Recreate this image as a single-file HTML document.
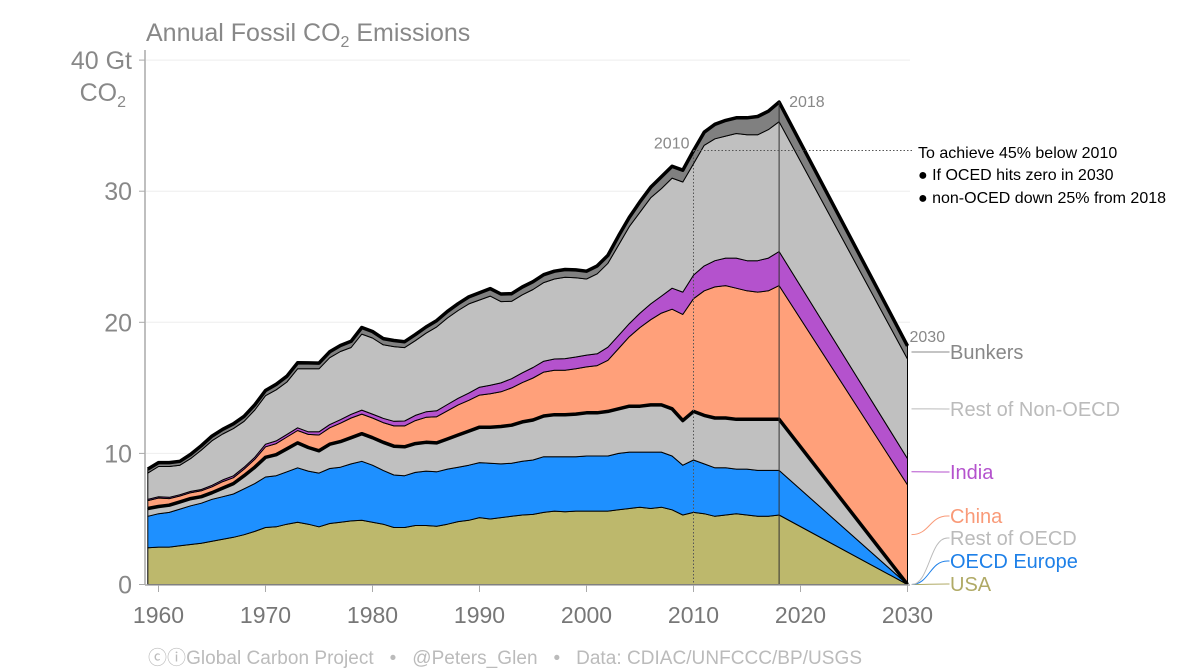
<!DOCTYPE html>
<html><head><meta charset="utf-8">
<style>
html,body{margin:0;padding:0;background:#fff;}
svg{display:block;font-family:"Liberation Sans",sans-serif;}
</style></head>
<body>
<svg id="chart" width="1200" height="672" viewBox="0 0 1200 672">
<g id="grid"></g>
<g id="areas"></g>
<g id="annot"></g>
<g id="axes"></g>
<g id="labels"></g>
<text x="146" y="41" font-size="25" fill="#888">Annual Fossil CO<tspan font-size="16" dy="6">2</tspan><tspan dy="-6"> Emissions</tspan></text>
<text x="132" y="69" font-size="25" fill="#888" text-anchor="end">40 Gt</text>
<text x="126" y="101" font-size="25" fill="#888" text-anchor="end">CO<tspan font-size="16" dy="6">2</tspan></text>
<text x="918" y="158" font-size="16" fill="#000">To achieve 45% below 2010</text>
<text x="918" y="180" font-size="16" fill="#000">● If OCED hits zero in 2030</text>
<text x="918" y="203" font-size="16" fill="#000">● non-OCED down 25% from 2018</text>
<text x="148" y="664" font-size="19" fill="#bbb" textLength="714" lengthAdjust="spacing" xml:space="preserve">ⓒⓘGlobal Carbon Project   •   @Peters_Glen   •   Data: CDIAC/UNFCCC/BP/USGS</text>
</svg>
<script>
const years=[1959,1960,1961,1962,1963,1964,1965,1966,1967,1968,1969,1970,1971,1972,1973,1974,1975,1976,1977,1978,1979,1980,1981,1982,1983,1984,1985,1986,1987,1988,1989,1990,1991,1992,1993,1994,1995,1996,1997,1998,1999,2000,2001,2002,2003,2004,2005,2006,2007,2008,2009,2010,2011,2012,2013,2014,2015,2016,2017,2018,2030];
const usa=[2.8,2.85,2.85,2.95,3.05,3.15,3.3,3.45,3.6,3.8,4.05,4.35,4.4,4.6,4.75,4.6,4.4,4.65,4.75,4.85,4.9,4.75,4.6,4.35,4.35,4.5,4.5,4.45,4.6,4.8,4.9,5.1,5.0,5.1,5.2,5.3,5.35,5.5,5.6,5.55,5.6,5.6,5.6,5.6,5.7,5.8,5.9,5.8,5.9,5.7,5.3,5.5,5.4,5.2,5.3,5.4,5.3,5.2,5.2,5.3,0];
const europe=[2.4,2.55,2.65,2.8,2.95,3.05,3.2,3.25,3.3,3.5,3.65,3.85,3.9,4.0,4.15,4.05,4.1,4.2,4.2,4.35,4.5,4.35,4.1,4.0,3.95,4.05,4.15,4.15,4.2,4.15,4.2,4.2,4.25,4.1,4.05,4.1,4.15,4.25,4.15,4.2,4.15,4.2,4.2,4.2,4.3,4.3,4.2,4.3,4.2,4.1,3.8,4.0,3.8,3.7,3.6,3.4,3.5,3.5,3.5,3.4,0];
const restOECD=[0.6,0.55,0.55,0.55,0.55,0.5,0.5,0.65,0.8,1.0,1.25,1.5,1.6,1.75,1.9,1.8,1.7,1.85,1.95,2.0,2.1,2.1,2.15,2.2,2.2,2.2,2.2,2.2,2.3,2.45,2.6,2.7,2.75,2.85,2.9,3.0,3.05,3.1,3.2,3.2,3.25,3.3,3.3,3.4,3.4,3.5,3.5,3.6,3.6,3.6,3.4,3.7,3.7,3.8,3.8,3.8,3.8,3.9,3.9,3.9,0];
const china=[0.6,0.65,0.5,0.45,0.45,0.45,0.45,0.5,0.45,0.5,0.6,0.8,0.85,0.9,0.95,1.0,1.2,1.25,1.4,1.5,1.5,1.5,1.5,1.55,1.6,1.75,1.9,2.0,2.15,2.3,2.35,2.45,2.55,2.65,2.85,3.0,3.2,3.35,3.4,3.4,3.45,3.5,3.6,3.9,4.6,5.3,6.0,6.5,7.0,7.6,8.1,8.6,9.5,10.0,10.1,10.0,9.8,9.7,9.8,10.2,7.6];
const india=[0.1,0.1,0.1,0.1,0.1,0.1,0.12,0.13,0.14,0.15,0.16,0.2,0.2,0.2,0.2,0.2,0.25,0.25,0.27,0.28,0.3,0.3,0.33,0.35,0.37,0.4,0.42,0.45,0.48,0.5,0.55,0.6,0.65,0.68,0.7,0.75,0.8,0.83,0.85,0.88,0.9,0.9,0.9,1.0,1.0,1.0,1.1,1.2,1.3,1.6,1.7,1.8,1.9,2.0,2.1,2.3,2.3,2.4,2.5,2.6,2.0];
const restNonOECD=[2.0,2.3,2.35,2.25,2.5,3.0,3.4,3.5,3.6,3.5,3.6,3.7,3.9,4.0,4.5,4.8,4.8,5.1,5.2,5.1,5.8,5.8,5.6,5.7,5.6,5.7,6.0,6.4,6.6,6.7,6.8,6.65,6.8,6.2,5.9,5.95,5.95,6.0,6.1,6.2,6.05,5.8,6.1,6.4,6.9,7.4,7.7,8.1,8.2,8.4,8.4,8.5,9.2,9.3,9.3,9.5,9.6,9.6,9.8,9.9,7.6];
const bunkers=[0.3,0.3,0.3,0.3,0.32,0.34,0.35,0.36,0.37,0.38,0.4,0.4,0.42,0.44,0.46,0.45,0.44,0.45,0.46,0.47,0.5,0.5,0.48,0.46,0.45,0.46,0.47,0.48,0.5,0.52,0.54,0.55,0.57,0.58,0.58,0.59,0.6,0.6,0.6,0.6,0.6,0.6,0.6,0.6,0.7,0.7,0.8,0.8,0.9,0.9,0.9,1.0,1.0,1.1,1.2,1.2,1.3,1.4,1.4,1.5,1.0];
const yTicks=[0,10,20,30];
const xTicks=[1960,1970,1980,1990,2000,2010,2020,2030];
const seriesNames=["USA","OECD Europe","Rest of OECD","China","India","Rest of Non-OECD","Bunkers"];

const NS="http://www.w3.org/2000/svg";
const X=y=>158.5+(y-1960)*10.7;
const Y=v=>584.5-v*13.11;
function mk(tag,attrs,parent){const e=document.createElementNS(NS,tag);for(const k in attrs)e.setAttribute(k,attrs[k]);parent.appendChild(e);return e;}
const series=[usa,europe,restOECD,china,india,restNonOECD,bunkers];
const colors=["#bdb86c","#1e90ff","#c0c0c0","#ffa07a","#b452cd","#c0c0c0","#808080"];
const keys=["usa","oecd-europe","rest-of-oecd","china","india","rest-of-non-oecd","bunkers"];
const gGrid=document.getElementById('grid'),gA=document.getElementById('areas'),gN=document.getElementById('annot'),gX=document.getElementById('axes'),gL=document.getElementById('labels');

[10,20,30,40].forEach(v=>{const l=mk('line',{x1:146,x2:910,y1:Y(v),y2:Y(v),stroke:'#eee','stroke-width':1},gGrid);

});

let cum=years.map(()=>0);
const tops=[];
series.forEach((s,i)=>{
  const lower=cum.slice();
  const upper=cum.map((c,j)=>c+s[j]);
  let d='M'+years.map((y,j)=>X(y).toFixed(1)+','+Y(upper[j]).toFixed(1)).join('L');
  for(let j=years.length-1;j>=0;j--)d+='L'+X(years[j]).toFixed(1)+','+Y(lower[j]).toFixed(1);
  d+='Z';
  const p=mk('path',{d:d,fill:colors[i],stroke:'#000','stroke-width':1,'stroke-linejoin':'round'},gA);
  
  
  tops.push(upper);cum=upper;
});
[[tops[2],'oecd-total-line'],[tops[6],'global-total-line']].forEach(([arr,nm])=>{
  const l=mk('path',{d:'M'+years.map((y,j)=>X(y).toFixed(1)+','+Y(arr[j]).toFixed(1)).join('L'),fill:'none',stroke:'#000','stroke-width':3.5,'stroke-linejoin':'round'},gA);
  
  
});
const i10=years.indexOf(2010),i18=years.indexOf(2018),i30=years.length-1;
const t=tops[6];
const v1=mk('line',{x1:X(2010),x2:X(2010),y1:Y(t[i10]),y2:Y(0),stroke:'#555','stroke-width':1,'stroke-dasharray':'1.5,2'},gN);


const v2=mk('line',{x1:X(2018),x2:X(2018),y1:Y(t[i18]),y2:Y(0),stroke:'#333','stroke-width':1},gN);


const h=mk('line',{x1:X(2010),x2:914,y1:Y(t[i10]),y2:Y(t[i10]),stroke:'#555','stroke-width':1,'stroke-dasharray':'1.5,2'},gN);


[[2010,X(2010)-4,Y(t[i10])-2,'end'],[2018,X(2018)+10,Y(t[i18])+5,'start'],[2030,X(2030)+2,Y(t[i30])-4,'start']].forEach(([lab,x,y,a])=>{
  const e=mk('text',{x:x,y:y,'font-size':16,fill:'#888','text-anchor':a},gN);e.textContent=lab;
  
  
});
const ya=mk('line',{x1:145,x2:145,y1:50,y2:585,stroke:'#aaa','stroke-width':1.5},gX);


const xa=mk('line',{x1:145,x2:910,y1:585,y2:585,stroke:'#aaa','stroke-width':1.5},gX);


mk('line',{x1:139,x2:145,y1:Y(40),y2:Y(40),stroke:'#aaa'},gX);
yTicks.forEach(v=>{
  mk('line',{x1:139,x2:145,y1:Y(v),y2:Y(v),stroke:'#aaa'},gX);
  const e=mk('text',{x:132,y:Y(v)+9,'font-size':25,fill:'#888','text-anchor':'end'},gX);e.textContent=v;
  
  
});
xTicks.forEach(v=>{
  mk('line',{x1:X(v),x2:X(v),y1:585,y2:592,stroke:'#aaa'},gX);
  const e=mk('text',{x:X(v),y:623,'font-size':23,fill:'#777','text-anchor':'middle'},gX);e.textContent=v;
  
  
});
const labY=[584,561,538,516,472,409,352];
const labC=["#b0aa66","#1e80e8","#bbb","#f99a78","#b452cd","#bbb","#888"];
seriesNames.forEach((n,i)=>{
  let mid;
  if(i<3){mid=Y(0);}else{const lo=tops[i-1][i30];mid=Y((lo+tops[i][i30])/2);}
  if(i===6)mid=labY[6];
  const x0=X(2030)+4;
  const path='M'+x0+','+mid+' C'+(x0+18)+','+mid+' '+(x0+18)+','+labY[i]+' '+(x0+36)+','+labY[i]+' L'+(x0+38)+','+labY[i];
  const p=mk('path',{d:path,fill:'none',stroke:labC[i],'stroke-width':1},gL);
  
  
  const e=mk('text',{x:950,y:labY[i]+7,'font-size':20,fill:labC[i]},gL);e.textContent=n;
  
  
});
</script>
</body></html>
